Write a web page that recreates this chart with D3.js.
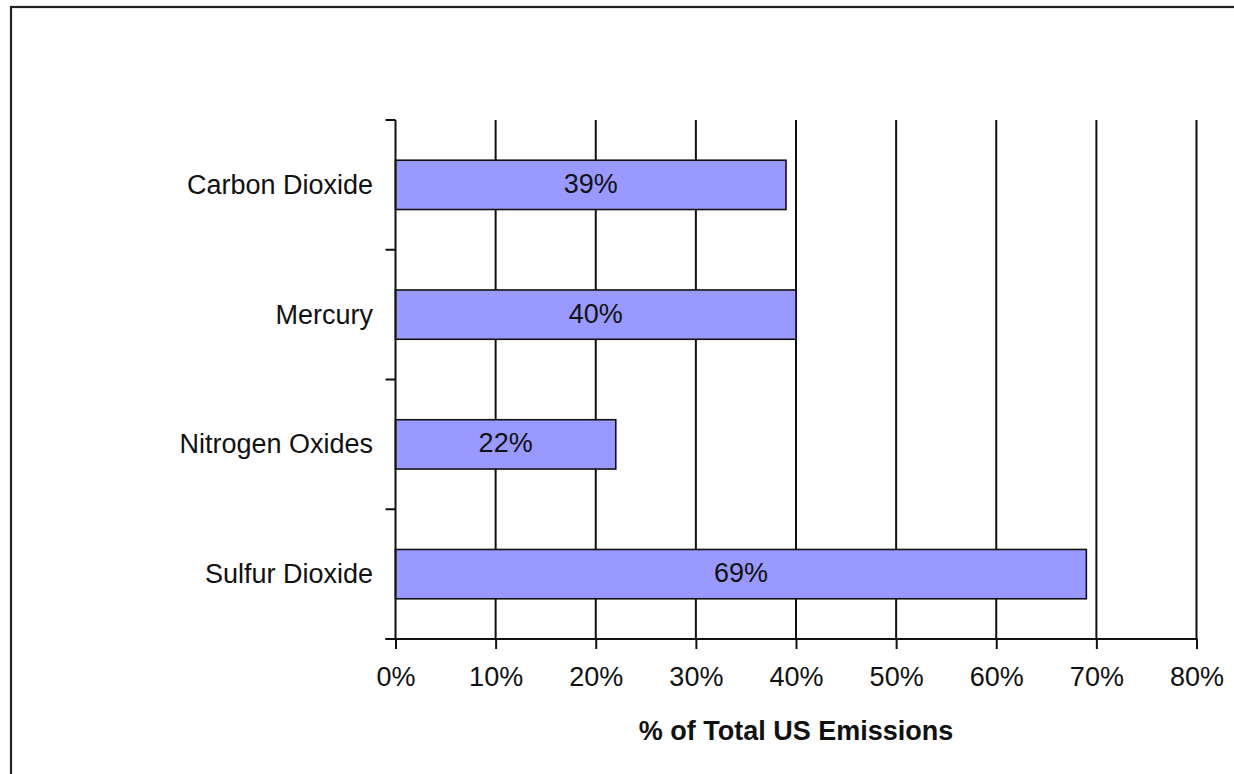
<!DOCTYPE html>
<html>
<head>
<meta charset="utf-8">
<script src="https://cdn.jsdelivr.net/npm/d3@7"></script>
<style>
  html, body { margin: 0; padding: 0; background: #fff; }
  svg { display: block; }
  text { font-family: "Liberation Sans", Arial, sans-serif; fill: #111; }
</style>
</head>
<body>
<svg id="chart" width="1234" height="774"></svg>
<script>
// Share of total US emissions from power plants, by pollutant
const categories = ["Carbon Dioxide", "Mercury", "Nitrogen Oxides", "Sulfur Dioxide"];
const shares = [39, 40, 22, 69];
const xTicks = [0, 10, 20, 30, 40, 50, 60, 70, 80];
const axisTitle = "% of Total US Emissions";

const svg = d3.select("#chart");
const plotLeft = 395.5, plotRight = 1196.5, plotTop = 120, plotBottom = 639;

// Outer frame
svg.append("rect")
  .attr("x", 11).attr("y", 7)
  .attr("width", 1250).attr("height", 800)
  .attr("fill", "none").attr("stroke", "#222").attr("stroke-width", 2.2);

const x = d3.scaleLinear().domain([0, 80]).range([plotLeft, plotRight]);
const y = d3.scaleBand().domain(categories).range([plotTop, plotBottom])
  .paddingInner(0.62).paddingOuter(0.31);

// Vertical gridlines
svg.append("g").selectAll("line")
  .data(xTicks.filter(d => d > 0))
  .join("line")
  .attr("x1", d => x(d)).attr("x2", d => x(d))
  .attr("y1", plotTop).attr("y2", plotBottom)
  .attr("stroke", "#111").attr("stroke-width", 2);

const rows = categories.map((c, i) => ({ c, v: shares[i] }));

// Bars
svg.append("g").selectAll("rect")
  .data(rows)
  .join("rect")
  .attr("x", x(0))
  .attr("y", d => y(d.c))
  .attr("width", d => x(d.v) - x(0))
  .attr("height", y.bandwidth())
  .attr("fill", "#9999ff")
  .attr("stroke", "#111").attr("stroke-width", 1.6);

// Value labels inside bars
svg.append("g").selectAll("text")
  .data(rows)
  .join("text")
  .attr("x", d => (x(0) + x(d.v)) / 2)
  .attr("y", d => y(d.c) + y.bandwidth() / 2 + 8)
  .attr("text-anchor", "middle")
  .attr("font-size", 27)
  .text(d => d.v + "%");

// X axis
const xAxis = d3.axisBottom(x)
  .tickValues(xTicks)
  .tickSize(10)
  .tickPadding(18)
  .tickFormat(d => d + "%");
const gx = svg.append("g").attr("transform", `translate(0,${plotBottom})`).call(xAxis);
gx.select(".domain").attr("stroke", "#111").attr("stroke-width", 2)
  .attr("d", `M${plotLeft - 10},0H${plotRight}`);
gx.selectAll(".tick line").attr("stroke", "#111").attr("stroke-width", 2);
gx.selectAll(".tick text")
  .attr("font-size", 27)
  .attr("font-family", "Liberation Sans, Arial, sans-serif")
  .attr("fill", "#111");

// Y axis: line with ticks on category boundaries
const step = y.step();
const boundaries = d3.range(categories.length + 1).map(i => plotTop + i * step);
svg.append("line")
  .attr("x1", plotLeft).attr("x2", plotLeft).attr("y1", plotTop).attr("y2", plotBottom)
  .attr("stroke", "#111").attr("stroke-width", 2);
svg.append("g").selectAll("line")
  .data(boundaries)
  .join("line")
  .attr("x1", plotLeft - 10).attr("x2", plotLeft)
  .attr("y1", d => d).attr("y2", d => d)
  .attr("stroke", "#111").attr("stroke-width", 2);

// Category labels
svg.append("g").selectAll("text")
  .data(categories)
  .join("text")
  .attr("x", 373)
  .attr("y", d => y(d) + y.bandwidth() / 2 + 9)
  .attr("text-anchor", "end")
  .attr("font-size", 27)
  .text(d => d);

// Axis title
svg.append("text")
  .attr("x", (plotLeft + plotRight) / 2)
  .attr("y", 740)
  .attr("text-anchor", "middle")
  .attr("font-size", 27)
  .attr("font-weight", "bold")
  .text(axisTitle);
</script>
</body>
</html>
